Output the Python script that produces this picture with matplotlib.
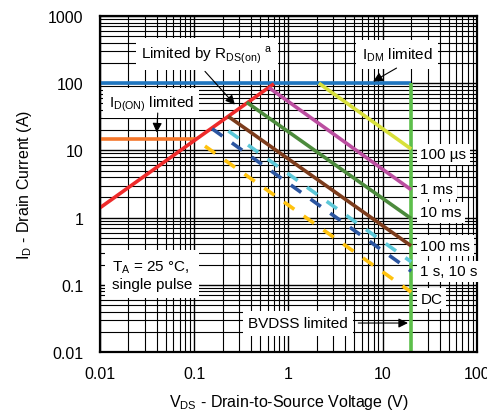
import matplotlib
matplotlib.use("Agg")
import matplotlib.pyplot as plt
from matplotlib.ticker import LogLocator, NullFormatter, FixedLocator, FixedFormatter

plt.rcParams['font.family'] = ['Liberation Sans', 'DejaVu Sans']
plt.rcParams['font.size'] = 11

# safe operating area segments: (V start, V end), (I start, I end)
vds_max = 20
idm = 100
id_on = 15

rds_v = [0.01, 0.7]
rds_i = [1.4, 98]

pulse_names = ["100 µs", "1 ms", "10 ms", "100 ms", "1 s", "10 s", "DC"]
pulse_v = [[2.1, 20], [0.62, 20], [0.36, 20], [0.23, 20], [0.23, 20], [0.155, 20], [0.13, 20]]
pulse_i = [[100, 10.5], [86, 2.6], [52, 0.97], [32, 0.38], [19.5, 0.22], [21, 0.16], [11.6, 0.078]]
pulse_colors = ['#d8e03a', '#bb4ea0', '#4c8a3c', '#7c3c1c', '#5cc8d8', '#2b55a0', '#ffc20e']
pulse_dashed = [False, False, False, False, True, True, True]

label_text = ["100 µs", "1 ms", "10 ms", "100 ms", "1 s, 10 s", "DC"]
label_i = [8.8, 2.7, 1.2, 0.38, 0.16, 0.062]

x_ticks = [0.01, 0.1, 1, 10, 100]
x_labels = ["0.01", "0.1", "1", "10", "100"]
y_ticks = [0.01, 0.1, 1, 10, 100, 1000]
y_labels = ["0.01", "0.1", "1", "10", "100", "1000"]

fig = plt.figure(figsize=(4.87, 4.14), dpi=100)
ax = fig.add_axes([0.2053, 0.1473, 0.7742, 0.8116])
ax.set_xscale('log')
ax.set_yscale('log')
ax.set_xlim(0.01, 100)
ax.set_ylim(0.01, 1000)

ax.xaxis.set_major_locator(FixedLocator(x_ticks))
ax.xaxis.set_major_formatter(FixedFormatter(x_labels))
ax.yaxis.set_major_locator(FixedLocator(y_ticks))
ax.yaxis.set_major_formatter(FixedFormatter(y_labels))
ax.xaxis.set_minor_locator(LogLocator(base=10, subs=range(2, 10), numticks=20))
ax.yaxis.set_minor_locator(LogLocator(base=10, subs=range(2, 10), numticks=20))
ax.xaxis.set_minor_formatter(NullFormatter())
ax.yaxis.set_minor_formatter(NullFormatter())
ax.tick_params(which='both', length=0, labelsize=11.5)
ax.tick_params(axis='x', pad=10)
ax.tick_params(axis='y', pad=12)
ax.grid(which='major', color='k', linewidth=1.0)
ax.grid(which='minor', color='k', linewidth=0.8)
ax.set_axisbelow(True)
for s in ax.spines.values():
    s.set_linewidth(1.6)

lw = 2.6
# limits
ax.plot([0.01, vds_max], [idm, idm], color='#1f76c0', lw=lw, solid_capstyle='butt')
ax.plot([vds_max, vds_max], [0.01, idm], color='#5cbf4a', lw=lw, solid_capstyle='butt')
ax.plot([0.01, 0.105], [id_on, id_on], color='#f4762a', lw=lw, solid_capstyle='butt')
ax.plot(rds_v, rds_i, color='#ee2a2a', lw=lw, solid_capstyle='butt')

for v, i, c, d in zip(pulse_v, pulse_i, pulse_colors, pulse_dashed):
    if d:
        ax.plot(v, i, color=c, lw=lw, dashes=(3.5, 3.2), solid_capstyle='butt')
    else:
        ax.plot(v, i, color=c, lw=lw, solid_capstyle='butt')

box = dict(facecolor='white', edgecolor='none', pad=2.5)
for t, y in zip(label_text, label_i):
    ax.text(25, y, t, ha='left', va='center', bbox=box, clip_on=False, zorder=5)

arrow = dict(arrowstyle='-|>', color='k', lw=0.8, mutation_scale=14, shrinkA=0, shrinkB=0)

ax.text(0.136, 270, "Limited by R$_{\\mathregular{DS(on)}}$ $^{\\mathregular{a}}$", ha='center', va='center',
        bbox=dict(facecolor='white', edgecolor='none', pad=4), zorder=5)
ax.annotate("", xy=(0.27, 48), xytext=(0.13, 150), arrowprops=arrow, zorder=6)

ax.text(0.035, 51, "I$_{\\mathregular{D(ON)}}$ limited", ha='center', va='center',
        bbox=dict(facecolor='white', edgecolor='none', pad=4), zorder=5)
ax.annotate("", xy=(0.040, 18.5), xytext=(0.041, 36), arrowprops=arrow, zorder=6)

ax.text(14.2, 270, "I$_{\\mathregular{DM}}$ limited", ha='center', va='center',
        bbox=dict(facecolor='white', edgecolor='none', pad=4), zorder=5)
ax.annotate("", xy=(7.9, 106), xytext=(14, 168), arrowprops=arrow, zorder=6)

ax.text(0.0134, 0.14, "T$_{\\mathregular{A}}$ = 25 °C,\nsingle pulse", ha='left', va='center',
        bbox=dict(facecolor='white', edgecolor='none', pad=5), zorder=5)

ax.text(1.26, 0.027, "BVDSS limited", ha='center', va='center',
        bbox=dict(facecolor='white', edgecolor='none', pad=4), zorder=5)
ax.annotate("", xy=(18.5, 0.027), xytext=(5.5, 0.027), arrowprops=arrow, zorder=6)

ax.set_xlabel("V$_{\\mathregular{DS}}$ - Drain-to-Source Voltage (V)", fontsize=11.5, labelpad=8)
ax.set_ylabel("I$_{\\mathregular{D}}$ - Drain Current (A)", fontsize=11.5, labelpad=10)

fig.savefig("out.png", dpi=100)
